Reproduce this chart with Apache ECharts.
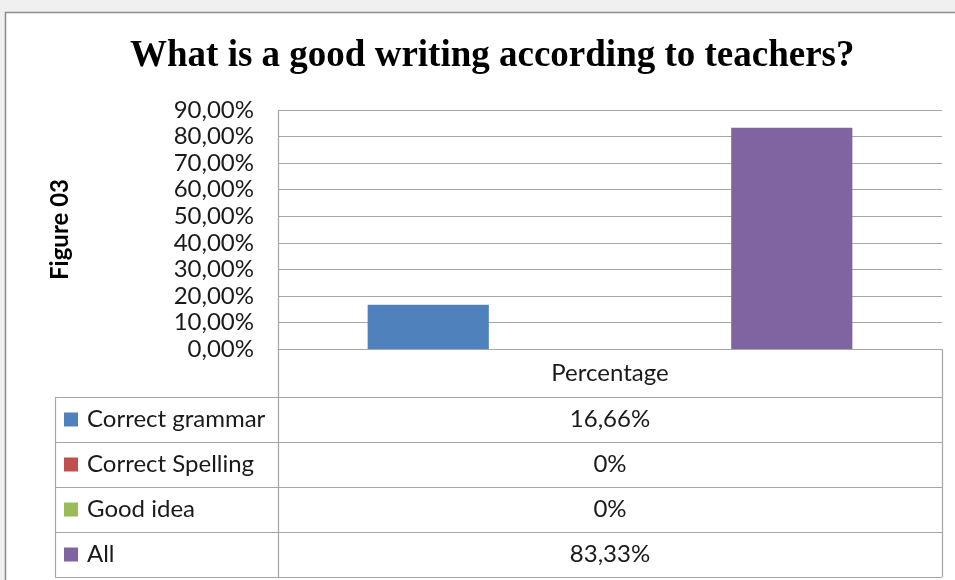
<!DOCTYPE html>
<html>
<head>
<meta charset="utf-8">
<script src="https://cdn.jsdelivr.net/npm/echarts@6/dist/echarts.min.js"></script>
<style>
  html, body { margin: 0; padding: 0; background: #f0f0f0; }
  #chart { width: 955px; height: 580px; }
</style>
</head>
<body>
<div id="chart"></div>
<script>
// Chart data
const categories = ['Percentage'];
const seriesNames = ['Correct grammar', 'Correct Spelling', 'Good idea', 'All'];
const seriesValues = [16.66, 0, 0, 83.33];
const seriesColors = ['#4F81BD', '#C0504D', '#9BBB59', '#8064A2'];
const yMin = 0, yMax = 90, yStep = 10;

// Layout of the plot and the data table beneath it
const plotLeft = 278, plotTop = 110, plotRight = 942, plotBottom = 349;
const tableLeft = 55;
const rowLines = [349, 397, 442, 487, 532, 577];
const gridColor = '#a6a6a6';
const sansFont = 'Lato, "Open Sans", sans-serif';
const textSize = 24;

function pct(v, digits) {
  return v.toFixed(digits).replace('.', ',') + '%';
}
function tableValue(v) {
  return v === 0 ? '0%' : pct(v, 2);
}

const chart = echarts.init(document.getElementById('chart'));

const graphics = [];
// Frame of the chart sheet
graphics.push({
  type: 'rect', z: -10,
  shape: { x: 5.5, y: 12.5, width: 960, height: 580 },
  style: { fill: '#ffffff', stroke: '#8c8c8c', lineWidth: 1.5 }
});
// Table: horizontal rules
rowLines.forEach((y, i) => {
  graphics.push({
    type: 'line', z: 5,
    shape: { x1: i === 0 ? plotLeft : tableLeft, y1: y + 0.5, x2: plotRight, y2: y + 0.5 },
    style: { stroke: gridColor, lineWidth: 1.2 }
  });
});
// Table: vertical rules
graphics.push({ type: 'line', z: 5, shape: { x1: tableLeft + 0.5, y1: rowLines[1], x2: tableLeft + 0.5, y2: rowLines[5] }, style: { stroke: gridColor, lineWidth: 1.2 } });
graphics.push({ type: 'line', z: 5, shape: { x1: plotLeft + 0.5, y1: plotTop, x2: plotLeft + 0.5, y2: rowLines[5] }, style: { stroke: gridColor, lineWidth: 1.2 } });
graphics.push({ type: 'line', z: 5, shape: { x1: plotRight + 0.5, y1: rowLines[0], x2: plotRight + 0.5, y2: rowLines[5] }, style: { stroke: gridColor, lineWidth: 1.2 } });

// Table rows: legend key, series name, value
seriesNames.forEach((name, i) => {
  const cy = (rowLines[i + 1] + rowLines[i + 2]) / 2;
  graphics.push({
    type: 'rect', z: 6,
    shape: { x: 64, y: cy - 7, width: 14, height: 14 },
    style: { fill: seriesColors[i] }
  });
  graphics.push({
    type: 'text', z: 6, x: 87, y: cy,
    style: { text: name, font: textSize + 'px ' + sansFont, fill: '#1a1a1a', verticalAlign: 'middle', textAlign: 'left' }
  });
  graphics.push({
    type: 'text', z: 6, x: (plotLeft + plotRight) / 2, y: cy,
    style: { text: tableValue(seriesValues[i]), font: textSize + 'px ' + sansFont, fill: '#1a1a1a', verticalAlign: 'middle', textAlign: 'center' }
  });
});

chart.setOption({
  animation: false,
  backgroundColor: 'transparent',
  title: {
    text: 'What is a good writing according to teachers?',
    left: 125,
    top: 33,
    textStyle: { fontFamily: '"Liberation Serif", "DejaVu Serif", serif', fontWeight: 'bold', fontSize: 37, color: '#000' }
  },
  grid: {
    left: plotLeft, top: plotTop,
    width: plotRight - plotLeft, height: plotBottom - plotTop,
    containLabel: false
  },
  xAxis: {
    type: 'category',
    data: categories,
    axisLine: { show: true, lineStyle: { color: gridColor, width: 1.2 } },
    axisTick: { show: false },
    axisLabel: { margin: 12, fontFamily: sansFont, fontSize: textSize, color: '#1a1a1a' }
  },
  yAxis: {
    type: 'value',
    min: yMin, max: yMax, interval: yStep,
    name: 'Figure 03',
    nameLocation: 'middle',
    nameGap: 206,
    nameRotate: 90,
    nameTextStyle: { fontFamily: sansFont, fontWeight: 'bold', fontSize: 24, color: '#000' },
    axisLine: { show: false },
    axisTick: { show: false },
    axisLabel: {
      margin: 24,
      fontFamily: sansFont, fontSize: textSize, color: '#1a1a1a',
      formatter: v => pct(v, 2)
    },
    splitLine: { show: true, lineStyle: { color: gridColor, width: 1.2 } }
  },
  series: seriesNames.map((name, i) => ({
    name: name,
    type: 'bar',
    data: [seriesValues[i]],
    barGap: '0%',
    barCategoryGap: '27%',
    itemStyle: { color: seriesColors[i] }
  })),
  graphic: graphics
});
</script>
</body>
</html>
